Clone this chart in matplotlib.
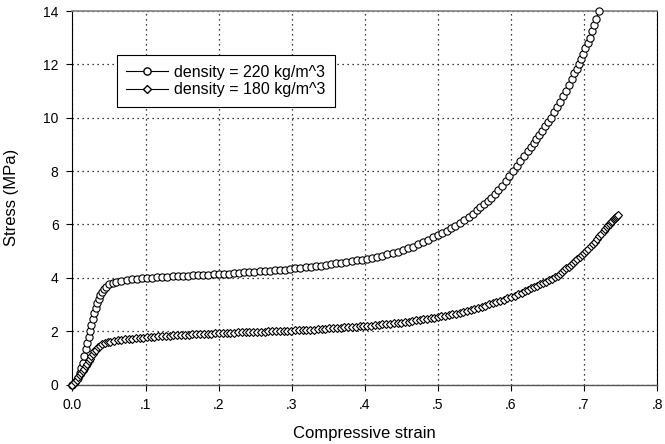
import matplotlib.pyplot as plt
from matplotlib.lines import Line2D

# density = 220 kg/m^3 (circles)
strain_220 = [0.000, 0.004, 0.007, 0.010, 0.012, 0.014, 0.016, 0.018, 0.020, 0.022,
              0.024, 0.026, 0.028, 0.030, 0.032, 0.034, 0.036, 0.038, 0.040, 0.043,
              0.046, 0.050, 0.055, 0.060, 0.067, 0.074, 0.081, 0.088, 0.095, 0.102,
              0.109, 0.116, 0.123, 0.130, 0.137, 0.144, 0.151, 0.158, 0.165, 0.172,
              0.179, 0.186, 0.193, 0.200, 0.207, 0.214, 0.221, 0.228, 0.235, 0.242,
              0.249, 0.256, 0.263, 0.270, 0.277, 0.284, 0.291, 0.298, 0.305, 0.312,
              0.319, 0.326, 0.333, 0.340, 0.347, 0.354, 0.361, 0.368, 0.375, 0.382,
              0.389, 0.396, 0.403, 0.410, 0.417, 0.424, 0.431, 0.438, 0.445, 0.452,
              0.459, 0.466, 0.473, 0.480, 0.487, 0.494, 0.500, 0.506, 0.512, 0.518,
              0.524, 0.530, 0.536, 0.542, 0.548, 0.553, 0.558, 0.563, 0.568, 0.573,
              0.578, 0.583, 0.588, 0.593, 0.598, 0.603, 0.608, 0.613, 0.618, 0.623,
              0.627, 0.631, 0.635, 0.639, 0.643, 0.647, 0.651, 0.655, 0.659, 0.663,
              0.667, 0.671, 0.675, 0.679, 0.683, 0.687, 0.690, 0.693, 0.696, 0.699,
              0.702, 0.705, 0.708, 0.711, 0.714, 0.717, 0.7205]
stress_220 = [0.00, 0.10, 0.25, 0.45, 0.62, 0.82, 1.05, 1.32, 1.55, 1.78,
              2.00, 2.23, 2.47, 2.68, 2.88, 3.06, 3.20, 3.35, 3.46, 3.58,
              3.67, 3.75, 3.81, 3.85, 3.89, 3.92, 3.94, 3.96, 3.98, 4.00,
              4.01, 4.02, 4.03, 4.04, 4.05, 4.06, 4.07, 4.08, 4.09, 4.10,
              4.11, 4.12, 4.13, 4.14, 4.15, 4.16, 4.17, 4.19, 4.20, 4.21,
              4.23, 4.24, 4.25, 4.27, 4.28, 4.30, 4.31, 4.33, 4.35, 4.37,
              4.39, 4.41, 4.43, 4.46, 4.48, 4.51, 4.54, 4.56, 4.59, 4.62,
              4.65, 4.68, 4.71, 4.75, 4.79, 4.83, 4.88, 4.93, 4.98, 5.04,
              5.10, 5.17, 5.25, 5.33, 5.43, 5.52, 5.60, 5.68, 5.77, 5.86,
              5.95, 6.04, 6.15, 6.28, 6.41, 6.53, 6.65, 6.77, 6.89, 7.01,
              7.15, 7.30, 7.46, 7.62, 7.80, 8.00, 8.18, 8.37, 8.56, 8.75,
              8.90, 9.05, 9.20, 9.36, 9.52, 9.68, 9.84, 10.00, 10.20, 10.40,
              10.60, 10.80, 11.00, 11.22, 11.44, 11.67, 11.84, 12.00, 12.20, 12.40,
              12.60, 12.80, 13.00, 13.24, 13.48, 13.72, 14.00]

# density = 180 kg/m^3 (diamonds)
strain_180 = [0.000, 0.003, 0.006, 0.008, 0.010, 0.012, 0.014, 0.016, 0.018, 0.020,
              0.022, 0.024, 0.026, 0.028, 0.030, 0.032, 0.035, 0.038, 0.041, 0.044,
              0.048, 0.052, 0.057, 0.062, 0.067, 0.072, 0.077, 0.082, 0.087, 0.092,
              0.097, 0.102, 0.107, 0.112, 0.117, 0.122, 0.128, 0.133, 0.138, 0.143,
              0.148, 0.154, 0.159, 0.164, 0.169, 0.174, 0.180, 0.185, 0.190, 0.195,
              0.200, 0.206, 0.211, 0.216, 0.221, 0.226, 0.232, 0.237, 0.242, 0.247,
              0.252, 0.258, 0.263, 0.268, 0.273, 0.278, 0.284, 0.289, 0.294, 0.299,
              0.304, 0.310, 0.315, 0.320, 0.325, 0.330, 0.336, 0.341, 0.346, 0.351,
              0.356, 0.362, 0.367, 0.372, 0.377, 0.382, 0.388, 0.393, 0.398, 0.403,
              0.408, 0.414, 0.419, 0.424, 0.429, 0.434, 0.440, 0.445, 0.450, 0.455,
              0.460, 0.465, 0.470, 0.475, 0.480, 0.485, 0.490, 0.495, 0.500, 0.505,
              0.510, 0.515, 0.520, 0.525, 0.530, 0.535, 0.540, 0.545, 0.550, 0.555,
              0.560, 0.565, 0.570, 0.575, 0.580, 0.585, 0.590, 0.595, 0.600, 0.605,
              0.610, 0.615, 0.620, 0.624, 0.628, 0.632, 0.636, 0.640, 0.644, 0.648,
              0.652, 0.656, 0.660, 0.664, 0.667, 0.670, 0.673, 0.676, 0.679, 0.682,
              0.685, 0.688, 0.691, 0.694, 0.697, 0.700, 0.703, 0.706, 0.709, 0.712,
              0.715, 0.718, 0.721, 0.724, 0.727, 0.729, 0.731, 0.733, 0.735, 0.737,
              0.739, 0.741, 0.742, 0.743, 0.744, 0.745, 0.747]
stress_180 = [0.00, 0.08, 0.18, 0.27, 0.36, 0.44, 0.51, 0.59, 0.68, 0.77,
              0.87, 0.97, 1.07, 1.16, 1.24, 1.31, 1.39, 1.45, 1.50, 1.54,
              1.58, 1.61, 1.64, 1.66, 1.68, 1.69, 1.71, 1.72, 1.73, 1.75,
              1.76, 1.77, 1.78, 1.79, 1.80, 1.81, 1.82, 1.83, 1.84, 1.85,
              1.86, 1.86, 1.87, 1.88, 1.89, 1.89, 1.90, 1.91, 1.91, 1.92,
              1.92, 1.93, 1.93, 1.94, 1.94, 1.95, 1.95, 1.96, 1.96, 1.97,
              1.97, 1.98, 1.98, 1.99, 1.99, 2.00, 2.00, 2.01, 2.01, 2.02,
              2.03, 2.03, 2.04, 2.05, 2.06, 2.06, 2.07, 2.08, 2.09, 2.10,
              2.11, 2.12, 2.13, 2.14, 2.15, 2.16, 2.17, 2.18, 2.19, 2.20,
              2.21, 2.22, 2.24, 2.25, 2.26, 2.28, 2.29, 2.31, 2.32, 2.34,
              2.36, 2.38, 2.40, 2.42, 2.44, 2.46, 2.48, 2.50, 2.52, 2.55,
              2.57, 2.60, 2.63, 2.66, 2.69, 2.72, 2.76, 2.80, 2.84, 2.88,
              2.92, 2.96, 3.00, 3.04, 3.08, 3.13, 3.18, 3.23, 3.28, 3.33,
              3.38, 3.44, 3.50, 3.55, 3.60, 3.65, 3.70, 3.75, 3.81, 3.86,
              3.91, 3.96, 4.02, 4.08, 4.14, 4.21, 4.28, 4.35, 4.42, 4.49,
              4.56, 4.64, 4.71, 4.78, 4.86, 4.93, 5.01, 5.09, 5.18, 5.27,
              5.36, 5.45, 5.55, 5.65, 5.75, 5.83, 5.90, 5.97, 6.03, 6.09,
              6.14, 6.19, 6.23, 6.26, 6.29, 6.32, 6.35]

x_ticks = [0.0, 0.1, 0.2, 0.3, 0.4, 0.5, 0.6, 0.7, 0.8]
x_tick_labels = ['0.0', '.1', '.2', '.3', '.4', '.5', '.6', '.7', '.8']
y_ticks = [0, 2, 4, 6, 8, 10, 12, 14]

plt.rcParams['font.family'] = ['Liberation Sans', 'DejaVu Sans']

fig = plt.figure(figsize=(6.65, 4.44), dpi=100)
ax = fig.add_axes([0.109, 0.134, 0.879, 0.841])

ax.plot(strain_220, stress_220, color='black', lw=0.8, marker='o', ms=5.2,
        mfc='white', mec='black', mew=0.8, clip_on=False, zorder=3)
ax.plot(strain_180, stress_180, color='black', lw=0.8, marker='D', ms=4.4,
        mfc='white', mec='black', mew=0.8, clip_on=False, zorder=3)

ax.set_xlim(0, 0.8)
ax.set_ylim(0, 14)
ax.set_xticks(x_ticks)
ax.set_xticklabels(x_tick_labels)
ax.set_yticks(y_ticks)
ax.tick_params(direction='out', length=4, width=0.8, labelsize=10, colors='black', pad=6)

ax.grid(True, color='black', linestyle=(0, (1, 3)), linewidth=0.9)
ax.set_axisbelow(True)

for side in ['left', 'right']:
    ax.spines[side].set_color('black')
    ax.spines[side].set_linewidth(0.8)
ax.spines['bottom'].set_color('#555555')
ax.spines['bottom'].set_linewidth(1.0)
ax.spines['top'].set_color('#808080')
ax.spines['top'].set_linewidth(1.2)

ax.set_xlabel('Compressive strain', fontsize=12, labelpad=10)
ax.set_ylabel('Stress (MPa)', fontsize=12, labelpad=17)

handles = [Line2D([], [], color='black', lw=0.8, marker='o', ms=5.2, mfc='white', mec='black'),
           Line2D([], [], color='black', lw=0.8, marker='D', ms=4.4, mfc='white', mec='black')]
leg = ax.legend(handles, ['density = 220 kg/m^3', 'density = 180 kg/m^3'],
                loc='upper left', bbox_to_anchor=(0.076, 0.882), borderaxespad=0,
                fontsize=11.5, frameon=True, fancybox=False, edgecolor='black',
                framealpha=1, handlelength=2.6, handletextpad=0.35, labelspacing=0.15,
                borderpad=0.6, numpoints=1)
leg.get_frame().set_linewidth(0.8)

plt.savefig('out.png', dpi=100)
